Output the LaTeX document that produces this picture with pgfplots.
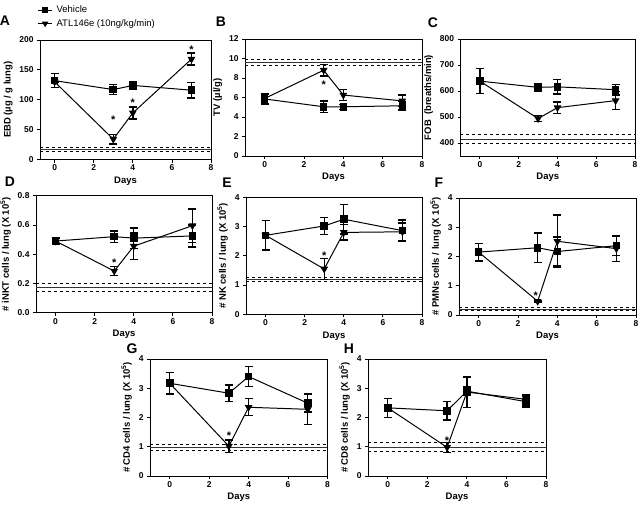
\documentclass[border=0pt]{standalone}
\usepackage{fontspec}
\setmainfont{Liberation Sans}
\usepackage{pgfplots}
\pgfplotsset{compat=1.18}
\begin{document}
\begin{tikzpicture}
\useasboundingbox (0bp,0bp) rectangle (640bp,-506bp);
\tikzset{astk/.style={font=\bfseries\fontsize{11}{11}\selectfont, anchor=base, yshift=-6bp}}
\pgfplotsset{
  panel/.style={scale only axis, width=176bp, height=117bp,
    xmin=-1, xmax=8, xtick={0,2,4,6,8},
    tick align=outside, tick pos=left, major tick length=3bp,
    axis line style={line width=0.8pt},
    every tick/.style={line width=0.8pt, black},
    ticklabel style={font=\bfseries\fontsize{8.5}{9}\selectfont},
    xticklabel style={yshift=1bp},
    /pgf/number format/assume math mode=true,
    xlabel={Days},
    label style={font=\bfseries\fontsize{9.5}{10}\selectfont},
    xlabel style={yshift=1bp},
    clip=false, anchor=south west},
  veh/.style={black, line width=1pt, mark=square*, mark size=3.3bp,
    error bars/y dir=both, error bars/y explicit,
    error bars/error bar style={line width=1.4pt},
    error bars/error mark options={rotate=90, mark size=4bp, line width=1.4pt}},
  atl/.style={black, line width=1pt, mark=triangle*, mark size=3.5bp,
    mark options={rotate=180},
    error bars/y dir=both, error bars/y explicit,
    error bars/error bar style={line width=1.4pt},
    error bars/error mark options={rotate=90, mark size=4bp, line width=1.4pt}},
  refd/.style={black, dashed, line width=0.6pt, forget plot},
  refs/.style={black!80, line width=0.6pt, forget plot}
}
\newcommand{\reflines}[3]{%
  \addplot[refd] coordinates {(-1,#1) (8,#1)};
  \addplot[refs] coordinates {(-1,#2) (8,#2)};
  \addplot[refd] coordinates {(-1,#3) (8,#3)};}

% A
\begin{axis}[panel, at={(40bp,-159.5bp)}, width=171bp, height=119.5bp, xmin=-0.75,
  ymin=0, ymax=200, ytick={0,50,100,150,200},
  ylabel={EBD (µg / g lung)},
  legend style={draw=none, fill=none, at={(axis description cs:-0.015,1.085)}, anchor=south west,
    font=\fontsize{9.5}{10}\selectfont, row sep=1bp, inner sep=0pt,
    nodes={inner xsep=4bp}},
  legend cell align=left,
  legend image code/.code={\draw[mark size=2.8bp, mark repeat=2,mark phase=2] plot coordinates {(0bp,0bp)(7bp,0bp)(14bp,0bp)};}]
\addplot[refd] coordinates {(-0.75,20) (8,20)};
\addplot[refs] coordinates {(-0.75,16.5) (8,16.5)};
\addplot[refd] coordinates {(-0.75,13) (8,13)};
\addplot[veh] coordinates {(0,132) +- (0,11.5) (3,117) +- (0,8.5) (4,124) +- (0,6) (7,116) +- (0,13)};
\addplot[atl] coordinates {(0,130) +- (0,0) (3,34) +- (0,8) (4,78) +- (0,10) (7,168) +- (0,10)};
\legend{Vehicle, ATL146e (10ng/kg/min)}
\node[astk] at (axis cs:3,70) {*};
\node[astk] at (axis cs:4,98) {*};
\node[astk] at (axis cs:7,188) {*};
\end{axis}

% B
\begin{axis}[panel, at={(245bp,-156bp)}, width=177bp,
  ymin=0, ymax=12, ytick={0,2,4,6,8,10,12},
  ylabel={TV (µl/g)}]
\reflines{9.9}{9.6}{9.3}
\addplot[atl] coordinates {(0,5.9) +- (0,0.5) (3,8.8) +- (0,0.6) (4,6.25) +- (0,0.55) (7,5.65) +- (0,0.6)};
\addplot[veh] coordinates {(0,5.85) +- (0,0.5) (3,5.05) +- (0,0.6) (4,5.05) +- (0,0.25) (7,5.15) +- (0,0.45)};
\node[astk] at (axis cs:3,7.5) {*};
\end{axis}

% C
\begin{axis}[panel, at={(460.5bp,-156bp)}, width=174.5bp,
  ymin=350, ymax=800, ytick={400,500,600,700,800},
  ylabel={FOB\ \ (breaths/min)}]
\reflines{433}{414}{400}
\addplot[atl] coordinates {(0,638) +- (0,48) (3,494) +- (0,12) (4,536) +- (0,22) (7,563) +- (0,35)};
\addplot[veh] coordinates {(0,638) +- (0,48) (3,614) +- (0,15) (4,616) +- (0,28) (7,605) +- (0,20)};
\end{axis}

% D
\begin{axis}[panel, at={(36bp,-312.7bp)}, width=176bp,
  ymin=0, ymax=0.8, ytick={0,0.2,0.4,0.6,0.8},
  yticklabel style={/pgf/number format/.cd, fixed, fixed zerofill, precision=1},
  ylabel={\# iNKT cells / lung (X 10\textsuperscript{5})}]
\reflines{0.2}{0.172}{0.145}
\addplot[atl] coordinates {(0,0.49) +- (0,0.02) (3,0.285) +- (0,0.03) (4,0.455) +- (0,0.09) (7,0.595) +- (0,0.115)};
\addplot[veh] coordinates {(0,0.49) +- (0,0.025) (3,0.52) +- (0,0.04) (4,0.51) +- (0,0.07) (7,0.525) +- (0,0.075)};
\node[astk] at (axis cs:3,0.355) {*};
\end{axis}

% E
\begin{axis}[panel, at={(246bp,-314.3bp)}, width=176bp,
  ymin=0, ymax=4, ytick={0,1,2,3,4},
  ylabel={\# NK cells / lung (X 10\textsuperscript{5})}]
\reflines{1.25}{1.2}{1.14}
\addplot[atl] coordinates {(0,2.7) +- (0,0.5) (3,1.55) +- (0,0.35) (4,2.8) +- (0,0.26) (7,2.82) +- (0,0.3)};
\addplot[veh] coordinates {(0,2.7) +- (0,0.5) (3,3.02) +- (0,0.29) (4,3.25) +- (0,0.5) (7,2.86) +- (0,0.36)};
\node[astk] at (axis cs:3,2.09) {*};
\end{axis}

% F
\begin{axis}[panel, at={(459bp,-315bp)}, width=177bp,
  ymin=0, ymax=4, ytick={0,1,2,3,4},
  ylabel={\# PMNs cells / lung (X 10\textsuperscript{5})}]
\reflines{0.28}{0.21}{0.15}
\addplot[atl] coordinates {(0,2.15) +- (0,0.3) (3,0.47) +- (0,0.03) (4,2.52) +- (0,0.9) (7,2.27) +- (0,0.45)};
\addplot[veh] coordinates {(0,2.15) +- (0,0.3) (3,2.3) +- (0,0.5) (4,2.17) +- (0,0.5) (7,2.37) +- (0,0.33)};
\node[astk] at (axis cs:2.9,0.75) {*};
\end{axis}

% G
\begin{axis}[panel, at={(150bp,-476bp)}, width=177.5bp,
  ymin=0, ymax=4, ytick={0,1,2,3,4},
  ylabel={\# CD4 cells / lung (X 10\textsuperscript{5})}]
\reflines{1.09}{0.99}{0.89}
\addplot[atl] coordinates {(0,3.17) +- (0,0.37) (3,1.02) +- (0,0.21) (4,2.35) +- (0,0.29) (7,2.28) +- (0,0.52)};
\addplot[veh] coordinates {(0,3.17) +- (0,0.37) (3,2.83) +- (0,0.28) (4,3.4) +- (0,0.34) (7,2.49) +- (0,0.3)};
\node[astk] at (axis cs:3,1.44) {*};
\end{axis}

% H
\begin{axis}[panel, at={(368bp,-476bp)}, width=178bp,
  ymin=0, ymax=4, ytick={0,1,2,3,4},
  ylabel={\# CD8 cells / lung (X 10\textsuperscript{5})}]
\reflines{1.14}{0.97}{0.83}
\addplot[atl] coordinates {(0,2.33) +- (0,0.33) (3,0.98) +- (0,0.17) (4,2.87) +- (0,0.52) (7,2.62) +- (0,0.15)};
\addplot[veh] coordinates {(0,2.33) +- (0,0.33) (3,2.23) +- (0,0.31) (4,2.9) +- (0,0.15) (7,2.54) +- (0,0.18)};
\node[astk] at (axis cs:3,1.29) {*};
\end{axis}

% panel letters
\begin{scope}[every node/.style={font=\bfseries\fontsize{14}{14}\selectfont}]
\node at (5bp,-21bp) {A};
\node at (221bp,-22bp) {B};
\node at (433bp,-23bp) {C};
\node at (10bp,-182bp) {D};
\node at (227bp,-183bp) {E};
\node at (439bp,-183bp) {F};
\node at (132bp,-349bp) {G};
\node at (349bp,-349bp) {H};
\end{scope}
\end{tikzpicture}
\end{document}
